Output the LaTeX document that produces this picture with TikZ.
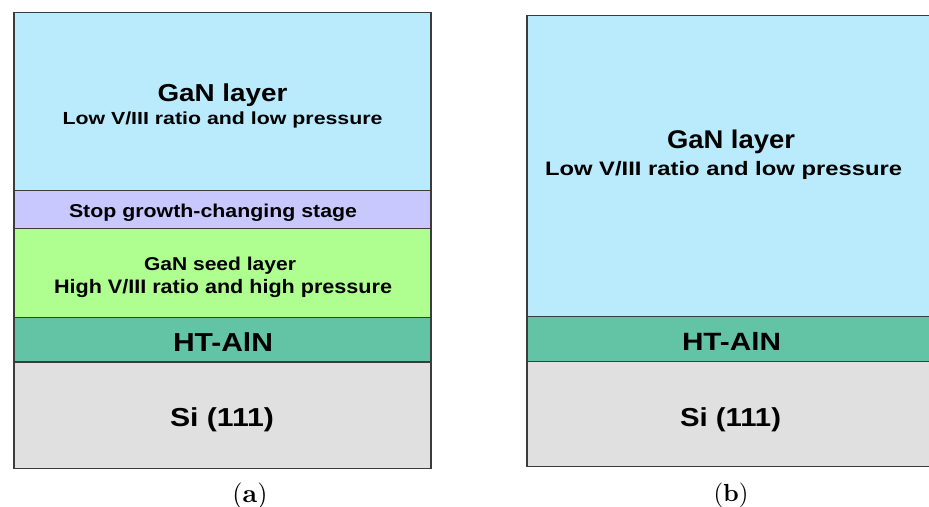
\documentclass[tikz,border=0pt]{standalone}
\usepackage{fontspec}
\usepackage{graphicx}
\newfontfamily\labelfont{Liberation Sans}
\definecolor{gancol}{HTML}{B9EBFD}
\definecolor{stopcol}{HTML}{C8C8FE}
\definecolor{seedcol}{HTML}{AEFE90}
\definecolor{alncol}{HTML}{62C4A4}
\definecolor{sicol}{HTML}{E0E0E0}
\definecolor{edgecol}{HTML}{3C3C3C}
% bold sans label of given size, stretched horizontally to a given width
\newcommand\fitlabel[3]{%
  \sbox0{\labelfont\bfseries\fontsize{#1}{#1}\selectfont #3}%
  \pgfmathsetmacro\labelsx{#2/\the\wd0}%
  \scalebox{\labelsx}[1]{\usebox0}}
% panel letter in parentheses, scaled to a fixed width
\newcommand\panelcaption[1]{\resizebox{35pt}{!}{(\textbf{#1})}}
\begin{document}
\begin{tikzpicture}[x=1pt,y=-1pt,
  layer/.style={draw=edgecol, line width=1.2pt, inner sep=0pt, outer sep=0pt},
  txt/.style={inner sep=0pt, text=black, anchor=base},
  captiontext/.style={inner sep=0pt}]
\useasboundingbox (0,0) rectangle (929,506);
\begin{scope}
\clip (0,0) rectangle (929,506);
% stack (a)
\node[layer, fill=gancol,  minimum width=417pt, minimum height=178.2pt] (ga) at (222.5,101.6) {};
\node[layer, fill=stopcol, minimum width=417pt, minimum height=38pt]    (sa) at (222.5,209.7) {};
\node[layer, fill=seedcol, minimum width=417pt, minimum height=89pt]    (da) at (222.5,273.2) {};
\node[layer, fill=alncol,  minimum width=417pt, minimum height=44.3pt]  (ha) at (222.5,339.9) {};
\node[layer, fill=sicol,   minimum width=417pt, minimum height=106.7pt] (ia) at (222.5,415.3) {};
% stack (b)
\node[layer, fill=gancol, minimum width=408pt, minimum height=301pt]   (gb) at (731,166.2) {};
\node[layer, fill=alncol, minimum width=408pt, minimum height=45pt]    (hb) at (731,339.2) {};
\node[layer, fill=sicol,  minimum width=408pt, minimum height=105pt]   (ib) at (731,414.2) {};
\end{scope}
% labels (a)
\node[txt] (ga1) at (222.5,101)  {\fitlabel{24.5pt}{130}{GaN layer}};
\node[txt] (ga2) at (222.5,124)  {\fitlabel{17.5pt}{320}{Low V/III ratio and low pressure}};
\node[txt] (sa1) at (213,217)    {\fitlabel{18.6pt}{288}{Stop growth-changing stage}};
\node[txt] (da1) at (220,270)    {\fitlabel{18.6pt}{152}{GaN seed layer}};
\node[txt] (da2) at (223,293.3)  {\fitlabel{19.5pt}{338}{High V/III ratio and high pressure}};
\node[txt] (ha1) at (223,351)    {\fitlabel{26pt}{100}{HT-AlN}};
\node[txt] (ia1) at (222,426)    {\fitlabel{26pt}{104}{Si (111)}};
% labels (b)
\node[txt] (gb1) at (731,148.3)  {\fitlabel{25.6pt}{128}{GaN layer}};
\node[txt] (gb2) at (723.5,175)  {\fitlabel{19.5pt}{357}{Low V/III ratio and low pressure}};
\node[txt] (hb1) at (731.5,350)  {\fitlabel{25pt}{99}{HT-AlN}};
\node[txt] (ib1) at (730.5,426)  {\fitlabel{26pt}{101}{Si (111)}};
% captions
\node[captiontext] (capa) at (250,495.5) {\panelcaption{a}};
\node[captiontext] (capb) at (731,495) {\panelcaption{b}};
\end{tikzpicture}
\end{document}
